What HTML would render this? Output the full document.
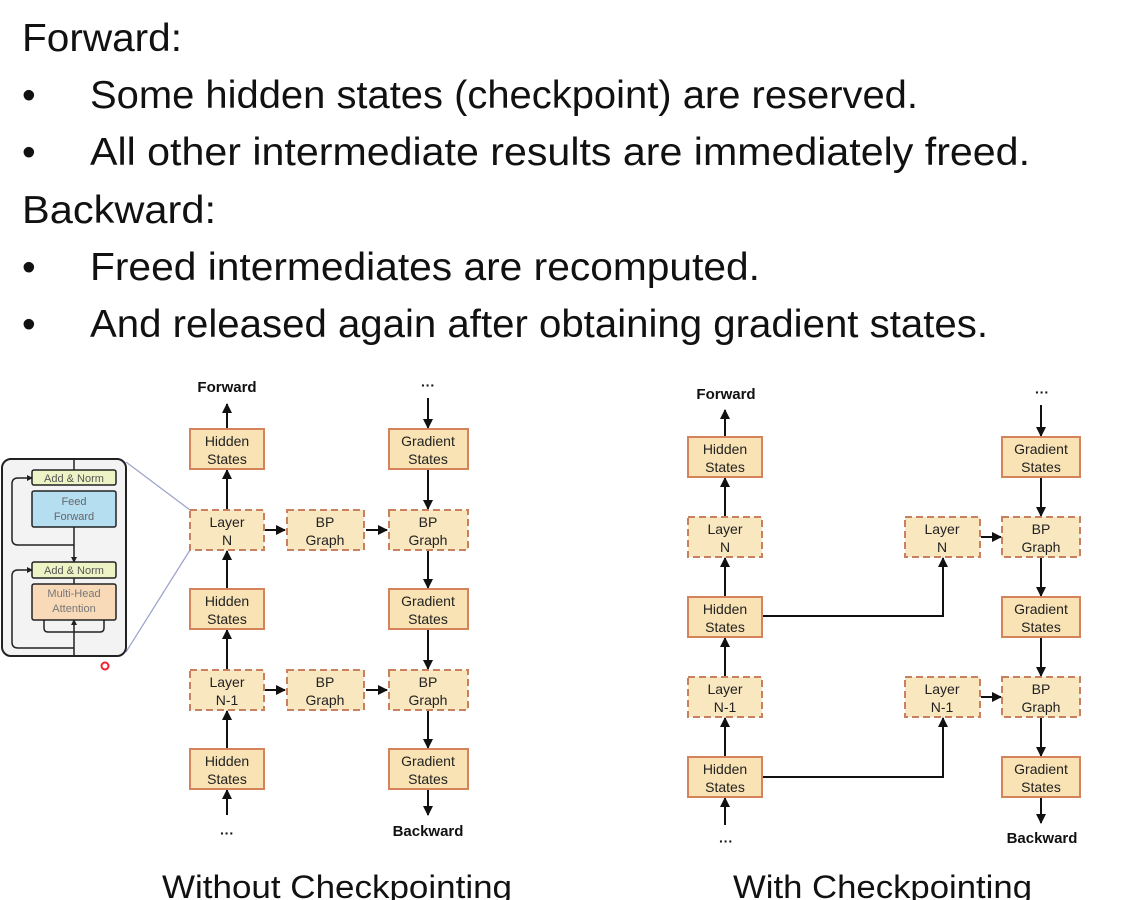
<!DOCTYPE html>
<html><head><meta charset="utf-8"><style>
html,body{margin:0;padding:0;background:#fff;}
svg{display:block;}
</style></head><body>
<svg width="1147" height="900" viewBox="0 0 1147 900" xmlns="http://www.w3.org/2000/svg">
<defs>
<marker id="ah" markerWidth="10" markerHeight="10" refX="9" refY="5" orient="auto" markerUnits="userSpaceOnUse">
<path d="M0,0 L10,5 L0,10 Z" fill="#111"/>
</marker>
<marker id="as" markerWidth="6" markerHeight="6" refX="5" refY="3" orient="auto" markerUnits="userSpaceOnUse">
<path d="M0,0 L6,3 L0,6 Z" fill="#222"/>
</marker>
</defs>
<g font-family="Liberation Sans, sans-serif" fill="#111" font-size="39">
<text x="22" y="51" textLength="160" lengthAdjust="spacingAndGlyphs">Forward:</text>
<text x="22" y="108">•</text><text x="90" y="108" textLength="828" lengthAdjust="spacingAndGlyphs">Some hidden states (checkpoint) are reserved.</text>
<text x="22" y="165">•</text><text x="90" y="165" textLength="940" lengthAdjust="spacingAndGlyphs">All other intermediate results are immediately freed.</text>
<text x="22" y="223" textLength="194" lengthAdjust="spacingAndGlyphs">Backward:</text>
<text x="22" y="280">•</text><text x="90" y="280" textLength="670" lengthAdjust="spacingAndGlyphs">Freed intermediates are recomputed.</text>
<text x="22" y="337">•</text><text x="90" y="337" textLength="898" lengthAdjust="spacingAndGlyphs">And released again after obtaining gradient states.</text>
</g>
<g font-family="Liberation Sans, sans-serif" font-size="32" fill="#111">
<text x="162" y="898" textLength="350" lengthAdjust="spacingAndGlyphs">Without Checkpointing</text>
<text x="733" y="898" textLength="299" lengthAdjust="spacingAndGlyphs">With Checkpointing</text>
</g>

<!-- inset -->
<g>
<line x1="126" y1="462" x2="190" y2="510" stroke="#9aa0cc" stroke-width="1.2"/>
<line x1="126" y1="652" x2="190" y2="550" stroke="#9aa0cc" stroke-width="1.2"/>
<rect x="2" y="459" width="124" height="197" rx="9" fill="#f3f3f3" stroke="#222" stroke-width="2"/>
<line x1="74" y1="459" x2="74" y2="470" stroke="#222" stroke-width="1.5"/>
<line x1="74" y1="527" x2="74" y2="562" stroke="#222" stroke-width="1.5" marker-end="url(#as)"/>
<line x1="74" y1="578" x2="74" y2="584" stroke="#222" stroke-width="1.5"/>
<line x1="74" y1="656" x2="74" y2="620" stroke="#222" stroke-width="1.5" marker-end="url(#as)"/>
<path d="M74,545 H18 Q12,545 12,539 V484 Q12,478 18,478 H32" fill="none" stroke="#222" stroke-width="1.5" marker-end="url(#as)"/>
<path d="M74,648 H18 Q12,648 12,642 V576 Q12,570 18,570 H32" fill="none" stroke="#222" stroke-width="1.5" marker-end="url(#as)"/>
<path d="M44,620 V628 Q44,632 48,632 H100 Q104,632 104,628 V620" fill="none" stroke="#222" stroke-width="1.5"/>
<rect x="32" y="470" width="84" height="15" rx="2" fill="#eef3c6" stroke="#222" stroke-width="1.5"/>
<text x="74" y="482" font-family="Liberation Sans, sans-serif" font-size="11" fill="#555" text-anchor="middle">Add &amp; Norm</text>
<rect x="32" y="491" width="84" height="36" rx="2" fill="#b5def0" stroke="#222" stroke-width="1.5"/>
<text x="74" y="505" font-family="Liberation Sans, sans-serif" font-size="11" fill="#666" text-anchor="middle">Feed</text>
<text x="74" y="520" font-family="Liberation Sans, sans-serif" font-size="11" fill="#666" text-anchor="middle">Forward</text>
<rect x="32" y="562" width="84" height="16" rx="2" fill="#eef3c6" stroke="#222" stroke-width="1.5"/>
<text x="74" y="574" font-family="Liberation Sans, sans-serif" font-size="11" fill="#555" text-anchor="middle">Add &amp; Norm</text>
<rect x="32" y="584" width="84" height="36" rx="2" fill="#f8d9b8" stroke="#222" stroke-width="1.5"/>
<text x="74" y="597" font-family="Liberation Sans, sans-serif" font-size="11" fill="#777" text-anchor="middle">Multi-Head</text>
<text x="74" y="612" font-family="Liberation Sans, sans-serif" font-size="11" fill="#777" text-anchor="middle">Attention</text>
<circle cx="105" cy="666" r="3.5" fill="none" stroke="#e23" stroke-width="2"/>
</g>

<g stroke="#111" stroke-width="2" fill="none" marker-end="url(#ah)">
<!-- left diagram arrows -->
<line x1="227" y1="429" x2="227" y2="404"/>
<line x1="227" y1="510" x2="227" y2="470"/>
<line x1="227" y1="589" x2="227" y2="551"/>
<line x1="227" y1="670" x2="227" y2="630"/>
<line x1="227" y1="749" x2="227" y2="711"/>
<line x1="227" y1="815" x2="227" y2="790"/>
<line x1="428" y1="398" x2="428" y2="428"/>
<line x1="428" y1="469" x2="428" y2="509"/>
<line x1="428" y1="550" x2="428" y2="588"/>
<line x1="428" y1="629" x2="428" y2="669"/>
<line x1="428" y1="710" x2="428" y2="748"/>
<line x1="428" y1="789" x2="428" y2="815"/>
<line x1="265" y1="530" x2="285" y2="530"/>
<line x1="366" y1="530" x2="387" y2="530"/>
<line x1="265" y1="690" x2="285" y2="690"/>
<line x1="366" y1="690" x2="387" y2="690"/>
<!-- right diagram arrows -->
<line x1="725" y1="437" x2="725" y2="410"/>
<line x1="725" y1="517" x2="725" y2="478"/>
<line x1="725" y1="597" x2="725" y2="558"/>
<line x1="725" y1="677" x2="725" y2="638"/>
<line x1="725" y1="757" x2="725" y2="718"/>
<line x1="725" y1="825" x2="725" y2="798"/>
<line x1="1041" y1="405" x2="1041" y2="436"/>
<line x1="1041" y1="477" x2="1041" y2="516"/>
<line x1="1041" y1="557" x2="1041" y2="596"/>
<line x1="1041" y1="637" x2="1041" y2="676"/>
<line x1="1041" y1="717" x2="1041" y2="756"/>
<line x1="1041" y1="797" x2="1041" y2="823"/>
<line x1="981" y1="537" x2="1001" y2="537"/>
<line x1="981" y1="697" x2="1001" y2="697"/>
<path d="M762,616 H943 V558"/>
<path d="M762,777 H943 V718"/>
</g>

<g font-family="Liberation Sans, sans-serif" font-size="14" fill="#111" text-anchor="middle">
<text x="227" y="392" font-weight="bold" font-size="15">Forward</text>
<text x="428" y="390" font-weight="bold">···</text>
<text x="428" y="836" font-weight="bold" font-size="15">Backward</text>
<text x="227" y="838" font-weight="bold">···</text>
<text x="726" y="399" font-weight="bold" font-size="15">Forward</text>
<text x="1042" y="397" font-weight="bold">···</text>
<text x="1042" y="843" font-weight="bold" font-size="15">Backward</text>
<text x="726" y="846" font-weight="bold">···</text>
</g>

<g font-family="Liberation Sans, sans-serif" font-size="14" fill="#222" text-anchor="middle">
<!-- solid boxes -->
<g fill="#f9e3b4" stroke="#d4835a" stroke-width="2">
<rect x="190" y="429" width="74" height="40"/>
<rect x="190" y="589" width="74" height="40"/>
<rect x="190" y="749" width="74" height="40"/>
<rect x="389" y="429" width="79" height="40"/>
<rect x="389" y="589" width="79" height="40"/>
<rect x="389" y="749" width="79" height="40"/>
<rect x="688" y="437" width="74" height="40"/>
<rect x="688" y="597" width="74" height="40"/>
<rect x="688" y="757" width="74" height="40"/>
<rect x="1002" y="437" width="78" height="40"/>
<rect x="1002" y="597" width="78" height="40"/>
<rect x="1002" y="757" width="78" height="40"/>
</g>
<g fill="#f9e7c0" stroke="#c9805e" stroke-width="2" stroke-dasharray="7,4">
<rect x="190" y="510" width="74" height="40"/>
<rect x="190" y="670" width="74" height="40"/>
<rect x="287" y="510" width="77" height="40"/>
<rect x="287" y="670" width="77" height="40"/>
<rect x="389" y="510" width="79" height="40"/>
<rect x="389" y="670" width="79" height="40"/>
<rect x="688" y="517" width="74" height="40"/>
<rect x="688" y="677" width="74" height="40"/>
<rect x="905" y="517" width="75" height="40"/>
<rect x="905" y="677" width="75" height="40"/>
<rect x="1002" y="517" width="78" height="40"/>
<rect x="1002" y="677" width="78" height="40"/>
</g>
<text x="227" y="446">Hidden</text><text x="227" y="464">States</text>
<text x="227" y="527">Layer</text><text x="227" y="545">N</text>
<text x="227" y="606">Hidden</text><text x="227" y="624">States</text>
<text x="227" y="687">Layer</text><text x="227" y="705">N-1</text>
<text x="227" y="766">Hidden</text><text x="227" y="784">States</text>
<text x="325" y="527">BP</text><text x="325" y="545">Graph</text>
<text x="325" y="687">BP</text><text x="325" y="705">Graph</text>
<text x="428" y="446">Gradient</text><text x="428" y="464">States</text>
<text x="428" y="527">BP</text><text x="428" y="545">Graph</text>
<text x="428" y="606">Gradient</text><text x="428" y="624">States</text>
<text x="428" y="687">BP</text><text x="428" y="705">Graph</text>
<text x="428" y="766">Gradient</text><text x="428" y="784">States</text>

<text x="725" y="454">Hidden</text><text x="725" y="472">States</text>
<text x="725" y="534">Layer</text><text x="725" y="552">N</text>
<text x="725" y="614">Hidden</text><text x="725" y="632">States</text>
<text x="725" y="694">Layer</text><text x="725" y="712">N-1</text>
<text x="725" y="774">Hidden</text><text x="725" y="792">States</text>
<text x="942" y="534">Layer</text><text x="942" y="552">N</text>
<text x="942" y="694">Layer</text><text x="942" y="712">N-1</text>
<text x="1041" y="454">Gradient</text><text x="1041" y="472">States</text>
<text x="1041" y="534">BP</text><text x="1041" y="552">Graph</text>
<text x="1041" y="614">Gradient</text><text x="1041" y="632">States</text>
<text x="1041" y="694">BP</text><text x="1041" y="712">Graph</text>
<text x="1041" y="774">Gradient</text><text x="1041" y="792">States</text>
</g>
</svg>
</body></html>
